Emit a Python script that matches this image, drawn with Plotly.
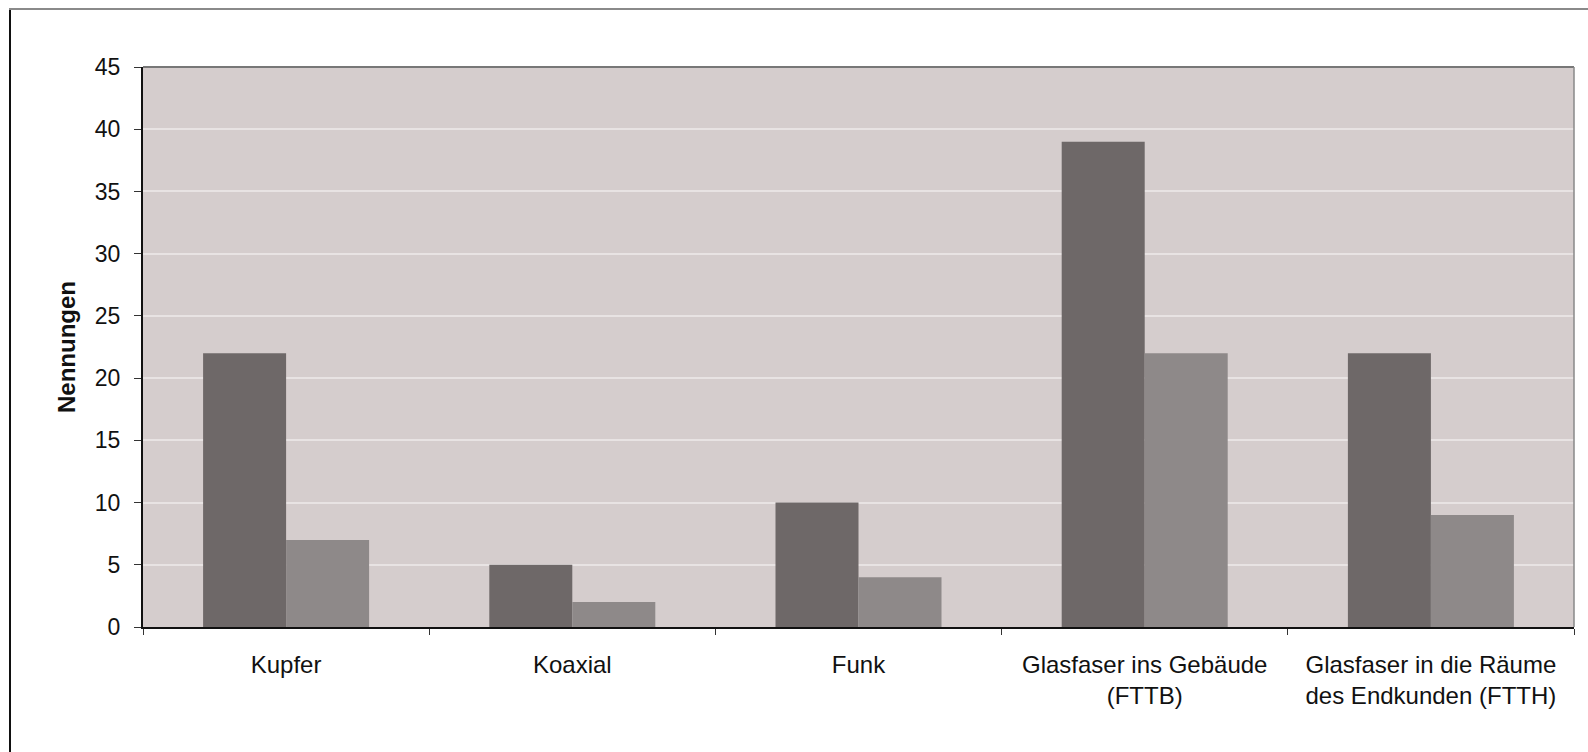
import plotly.graph_objects as go

categories = ["Kupfer", "Koaxial", "Funk",
              "Glasfaser ins Gebäude<br>(FTTB)",
              "Glasfaser in die Räume<br>des Endkunden (FTTH)"]
series_a = [22, 5, 10, 39, 22]
series_b = [7, 2, 4, 22, 9]
y_ticks = [0, 5, 10, 15, 20, 25, 30, 35, 40, 45]

W, H = 1588, 752
L, R, T, B = 143, 14, 67, 125

fig = go.Figure()
fig.add_bar(x=categories, y=series_a, marker=dict(color="#6e6868", line=dict(width=0)), name="A")
fig.add_bar(x=categories, y=series_b, marker=dict(color="#8e8989", line=dict(width=0)), name="B")

pw = W - L - R
ph = H - T - B
def px(x):
    return (x - L) / pw
def py(y):
    return (H - B - y) / ph

shapes = [
    dict(type="line", xref="paper", yref="paper", x0=px(10), x1=px(10), y0=py(752), y1=py(9),
         line=dict(color="#111111", width=2)),
    dict(type="line", xref="paper", yref="paper", x0=px(9), x1=px(1588), y0=py(9), y1=py(9),
         line=dict(color="#8a8a8a", width=2)),
    dict(type="line", xref="paper", yref="paper", x0=0, x1=1, y0=1, y1=1,
         line=dict(color="#777777", width=2)),
    dict(type="line", xref="paper", yref="paper", x0=1, x1=1, y0=0, y1=1,
         line=dict(color="#888888", width=1.5)),
]

fig.update_layout(
    width=W, height=H,
    margin=dict(l=L, r=R, t=T, b=B),
    paper_bgcolor="white",
    plot_bgcolor="#d5cdcd",
    barmode="group",
    bargap=0.42,
    bargroupgap=0,
    showlegend=False,
    font=dict(family="Liberation Sans, Arial, sans-serif", size=24, color="#111111"),
    shapes=shapes,
    xaxis=dict(
        showline=True, linecolor="#111111", linewidth=2,
        ticks="outside", tickson="boundaries", ticklen=6, tickcolor="#333333",
        showgrid=False, tickfont=dict(size=24), ticklabelstandoff=15,
    ),
    yaxis=dict(
        range=[0, 45], tickvals=y_ticks, ticks="outside", ticklen=7, tickcolor="#333333",
        showline=True, linecolor="#111111", linewidth=2,
        showgrid=True, gridcolor="#e8e3e3", gridwidth=2,
        zeroline=False, tickfont=dict(size=23), ticklabelstandoff=9,
        title=dict(text="<b>Nennungen</b>", font=dict(size=24), standoff=12),
    ),
)

fig.write_html(
    "out.html",
    config={"displayModeBar": False},
    post_script="document.body.style.margin='0';document.body.style.overflow='hidden';",
)
